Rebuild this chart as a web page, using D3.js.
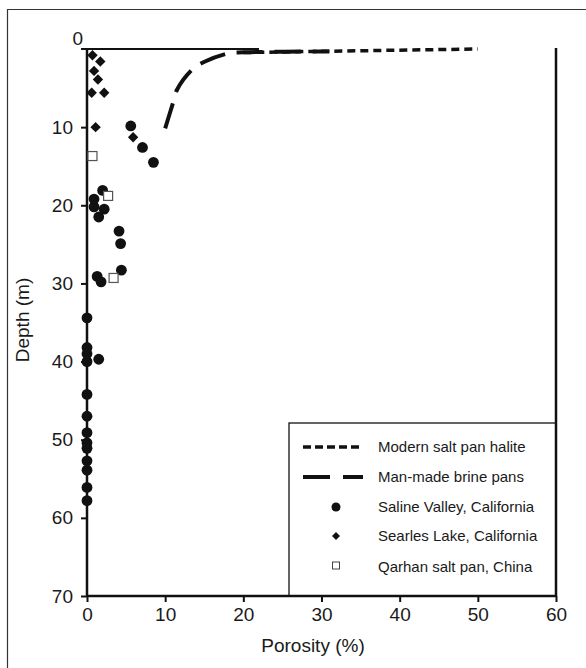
<!DOCTYPE html>
<html>
<head>
<meta charset="utf-8">
<script src="https://cdn.jsdelivr.net/npm/d3@7"></script>
<style>
  html, body { margin: 0; padding: 0; background: #fff; }
  svg { display: block; }
  text { font-family: "Liberation Sans", Arial, Helvetica, sans-serif; fill: #1a1a1a; }
</style>
</head>
<body>
<svg id="chart" width="586" height="668"></svg>
<script>
// ---- data ----
const xTicks = [0, 10, 20, 30, 40, 50, 60];
const yTicks = [0, 10, 20, 30, 40, 50, 60, 70];

const salinePorosity = [5.6, 7.1, 8.5, 2.0, 0.9, 0.9, 2.2, 1.5, 4.1, 4.3, 4.4, 1.3, 1.8, 0, 0, 0, 0, 1.5, 0, 0, 0, 0, 0, 0, 0, 0, 0];
const salineDepth    = [9.85, 12.6, 14.5, 18.1, 19.2, 20.2, 20.5, 21.5, 23.3, 24.9, 28.3, 29.1, 29.8, 34.4, 38.2, 39.0, 40.0, 39.7, 44.2, 47.0, 49.1, 50.4, 51.1, 52.7, 53.9, 56.1, 57.8];

const searlesPorosity = [0.7, 1.7, 0.9, 1.4, 0.6, 2.2, 1.1, 5.9];
const searlesDepth    = [0.8, 1.6, 2.8, 3.9, 5.6, 5.6, 10.0, 11.3];

const qarhanPorosity = [0.7, 2.7, 3.4];
const qarhanDepth    = [13.7, 18.8, 29.3];

const brinePorosity = [10.0, 11.05, 11.5, 13.5, 15.1, 18.1, 20.0, 31.0];
const brineDepth    = [10.15, 6.74, 5.25, 2.6, 1.6, 0.55, 0.42, 0.32];

const halitePorosity = [20, 50];
const haliteDepth    = [0.45, 0.0];

const surfaceExtent = 22; // solid line at depth 0, from 0 to this porosity

const legendLabels = ["Modern salt pan halite", "Man-made brine pans", "Saline Valley, California", "Searles Lake, California", "Qarhan salt pan, China"];

// ---- layout ----
const svg = d3.select("#chart");
const x = d3.scaleLinear().domain([0, 60]).range([87, 556]);
const y = d3.scaleLinear().domain([0, 70]).range([49, 596]);
const ink = "#111";

// outer frame (clipped at right/bottom)
svg.append("path").attr("d", "M7.5,668 V9.5 H586").attr("fill", "none").attr("stroke", "#333").attr("stroke-width", 1.2);

// legend box
const lg = { x0: 289, y0: 423 };
svg.append("rect").attr("x", lg.x0).attr("y", lg.y0).attr("width", x(60) - lg.x0).attr("height", y(70) - lg.y0)
  .attr("fill", "#fff").attr("stroke", ink).attr("stroke-width", 1.3);

// axes
const xAxis = d3.axisBottom(x).tickValues(xTicks).tickSize(6).tickPadding(6);
const gx = svg.append("g").attr("transform", `translate(0,${y(70)})`).call(xAxis);
const yAxis = d3.axisLeft(y).tickValues(yTicks).tickSize(6).tickPadding(8);
const gy = svg.append("g").attr("transform", `translate(${x(0)},0)`).call(yAxis);
[gx, gy].forEach(g => {
  g.select(".domain").attr("stroke", ink).attr("stroke-width", 2.5);
  g.selectAll(".tick line").attr("stroke", ink).attr("stroke-width", 2);
  g.selectAll(".tick text").attr("font-size", 19).attr("font-family", "Liberation Sans, Arial, sans-serif").attr("fill", "#1a1a1a");
});
gy.select(".domain").attr("d", `M0,${y(0)}V${y(70)}`);
gx.select(".domain").attr("d", `M${x(0)},0H${x(60)}`);
// zero depth label sits higher, closer to the axis
gy.selectAll(".tick").filter(d => d === 0).select("text").attr("dy", "-0.25em").attr("x", -4);
gy.selectAll(".tick").filter(d => d === 0).select("line").remove();

// right axis line
svg.append("line").attr("x1", x(60)).attr("x2", x(60)).attr("y1", y(0) - 1).attr("y2", y(70))
  .attr("stroke", ink).attr("stroke-width", 2.5);
// surface line at depth 0
svg.append("line").attr("x1", x(0) - 6).attr("x2", x(surfaceExtent)).attr("y1", y(0)).attr("y2", y(0))
  .attr("stroke", ink).attr("stroke-width", 2.2);

// axis titles
svg.append("text").attr("x", 313).attr("y", 652).attr("text-anchor", "middle").attr("font-size", 19).text("Porosity (%)");
svg.append("text").attr("transform", "translate(29,320) rotate(-90)").attr("text-anchor", "middle").attr("font-size", 19).text("Depth (m)");

// lines
const brine = brinePorosity.map((p, i) => [p, brineDepth[i]]);
const halite = halitePorosity.map((p, i) => [p, haliteDepth[i]]);
svg.append("path").attr("d", d3.line().x(d => x(d[0])).y(d => y(d[1])).curve(d3.curveCatmullRom.alpha(0.5))(brine))
  .attr("fill", "none").attr("stroke", ink)
  .attr("stroke-width", 4).attr("stroke-dasharray", "26,12");
svg.append("path").attr("d", d3.line().x(d => x(d[0])).y(d => y(d[1]))(halite)).attr("fill", "none").attr("stroke", ink)
  .attr("stroke-width", 3.5).attr("stroke-dasharray", "8,5");

// markers
const diamond = s => `M0,${-s}L${s},0L0,${s}L${-s},0Z`;
svg.append("g").selectAll("circle").data(salinePorosity).join("circle")
  .attr("cx", d => x(d)).attr("cy", (d, i) => y(salineDepth[i])).attr("r", 5.4).attr("fill", ink);
svg.append("g").selectAll("path").data(searlesPorosity).join("path")
  .attr("transform", (d, i) => `translate(${x(d)},${y(searlesDepth[i])})`).attr("d", diamond(5.2)).attr("fill", ink);
svg.append("g").selectAll("rect").data(qarhanPorosity).join("rect")
  .attr("x", d => x(d) - 4.5).attr("y", (d, i) => y(qarhanDepth[i]) - 4.5).attr("width", 9).attr("height", 9)
  .attr("fill", "#fff").attr("stroke", "#555").attr("stroke-width", 1.2);

// legend
const rowY = [447, 477, 507, 536, 567];
const lsx0 = 303, lsx1 = 363, lmx = 336, ltx = 378;
const lgG = svg.append("g");
lgG.append("line").attr("x1", lsx0).attr("x2", lsx1).attr("y1", rowY[0]).attr("y2", rowY[0])
  .attr("stroke", ink).attr("stroke-width", 3.5).attr("stroke-dasharray", "8,4");
lgG.append("line").attr("x1", lsx0).attr("x2", lsx1).attr("y1", rowY[1]).attr("y2", rowY[1])
  .attr("stroke", ink).attr("stroke-width", 4).attr("stroke-dasharray", "27,13");
lgG.append("circle").attr("cx", lmx).attr("cy", rowY[2]).attr("r", 4.5).attr("fill", ink);
lgG.append("path").attr("transform", `translate(${lmx},${rowY[3]})`).attr("d", diamond(4)).attr("fill", ink);
lgG.append("rect").attr("x", lmx - 3.5).attr("y", rowY[4] - 5).attr("width", 7).attr("height", 7)
  .attr("fill", "#fff").attr("stroke", "#444").attr("stroke-width", 1);
lgG.selectAll("text").data(legendLabels).join("text")
  .attr("x", ltx).attr("y", (d, i) => rowY[i]).attr("dy", "0.35em").attr("font-size", 15).text(d => d);
</script>
</body>
</html>
